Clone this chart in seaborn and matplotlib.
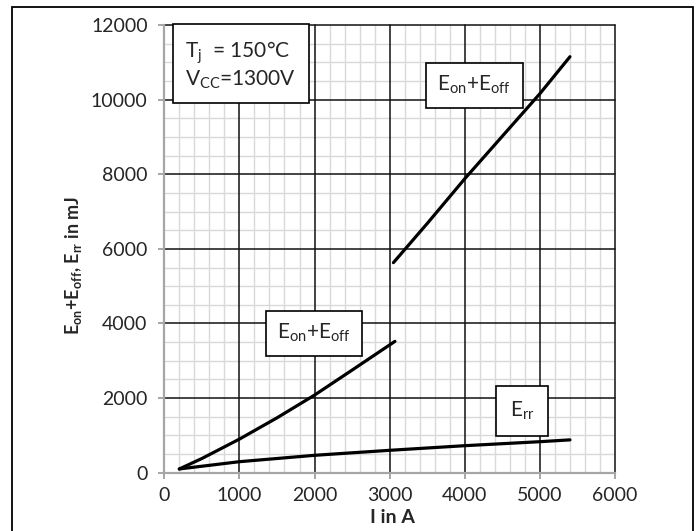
import seaborn as sns
import matplotlib.pyplot as plt
import matplotlib.ticker as ticker
from matplotlib.patches import Rectangle
import pandas as pd

# E_on+E_off, lower branch
eon_low_i = [200, 500, 1000, 1500, 2000, 2500, 3070]
eon_low_e = [100, 380, 900, 1470, 2080, 2750, 3520]

# E_on+E_off, upper branch
eon_high_i = [3050, 3500, 4000, 4500, 5000, 5400]
eon_high_e = [5630, 6680, 7880, 9020, 10160, 11150]

# E_rr
err_i = [200, 1000, 2000, 3000, 4000, 5000, 5400]
err_e = [100, 295, 466, 600, 724, 831, 880]

x_ticks = [0, 1000, 2000, 3000, 4000, 5000, 6000]
y_ticks = [0, 2000, 4000, 6000, 8000, 10000, 12000]

sns.set_style("white")
plt.rcParams['font.family'] = ['Lato', 'DejaVu Sans']
plt.rcParams['mathtext.fontset'] = 'custom'
plt.rcParams['mathtext.rm'] = 'Lato'
plt.rcParams['mathtext.it'] = 'Lato'
plt.rcParams['mathtext.bf'] = 'Lato:bold'

fig = plt.figure(figsize=(6.97, 5.31), dpi=100)
ax = fig.add_axes([0.2357, 0.1098, 0.6467, 0.8431])

curves = [(eon_low_i, eon_low_e), (eon_high_i, eon_high_e), (err_i, err_e)]
for xs, ys in curves:
    df = pd.DataFrame({'I': xs, 'E': ys})
    sns.lineplot(data=df, x='I', y='E', ax=ax, color='black', lw=2.3, sort=False, zorder=3)

ax.set_xlim(0, 6000)
ax.set_ylim(0, 12000)
ax.set_xticks(x_ticks)
ax.set_yticks(y_ticks)
ax.xaxis.set_minor_locator(ticker.MultipleLocator(200))
ax.yaxis.set_minor_locator(ticker.MultipleLocator(500))

# light minor grid, black major grid on top of it
ax.grid(which='minor', color='#d9d9d9', lw=1.0, ls='-')
ax.set_axisbelow(True)
for v in x_ticks[1:]:
    ax.axvline(v, color='#111111', lw=1.1, zorder=1, clip_on=False)
for v in y_ticks[1:]:
    ax.axhline(v, color='#111111', lw=1.1, zorder=1, clip_on=False)

for s in ['left', 'bottom']:
    ax.spines[s].set_color('#a6a6a6')
    ax.spines[s].set_linewidth(1.6)
    ax.spines[s].set_zorder(2)
for s in ['top', 'right']:
    ax.spines[s].set_visible(False)

ax.tick_params(axis='x', which='major', direction='out', length=4, width=1.4, color='#a6a6a6',
               labelsize=14, pad=6, bottom=True)
ax.tick_params(axis='y', which='major', direction='out', length=4, width=1.4, color='#a6a6a6',
               labelsize=14, pad=8, left=True)
ax.tick_params(which='minor', length=0)

ax.set_xlabel('I in A', fontsize=14, fontweight='bold')
ax.xaxis.set_label_coords(0.507, -0.082)
ax.set_ylabel(r'$\mathbf{E_{on}}$+$\mathbf{E_{off}}$, $\mathbf{E_{rr}}$ in mJ', fontsize=13,
              fontweight='bold')
ax.yaxis.set_label_coords(-0.178, 0.462)

ax.text(280, 11620, r'T$_\mathregular{j}$  = 150°C' + '\n' + r'V$_\mathregular{CC}$=1300V',
        fontsize=15, va='top', ha='left', linespacing=1.15,
        bbox=dict(boxstyle='square,pad=0.6', fc='white', ec='black', lw=1.2))
box = dict(boxstyle='square,pad=0.55', fc='white', ec='black', lw=1.2)
ax.text(1993, 3737, r'E$_\mathregular{on}$+E$_\mathregular{off}$', fontsize=15, ha='center', va='center', bbox=box)
ax.text(4124, 10386, r'E$_\mathregular{on}$+E$_\mathregular{off}$', fontsize=15, ha='center', va='center', bbox=box)
ax.text(4763, 1654, r'E$_\mathregular{rr}$', fontsize=15, ha='center', va='center',
        bbox=dict(boxstyle='square,pad=0.65', fc='white', ec='black', lw=1.2))

fig.patches.append(Rectangle((12 / 697, -0.1), 681 / 697, 1.1 - 7 / 531, transform=fig.transFigure,
                             fill=False, ec='black', lw=1.3))

plt.savefig('out.png', dpi=100)
